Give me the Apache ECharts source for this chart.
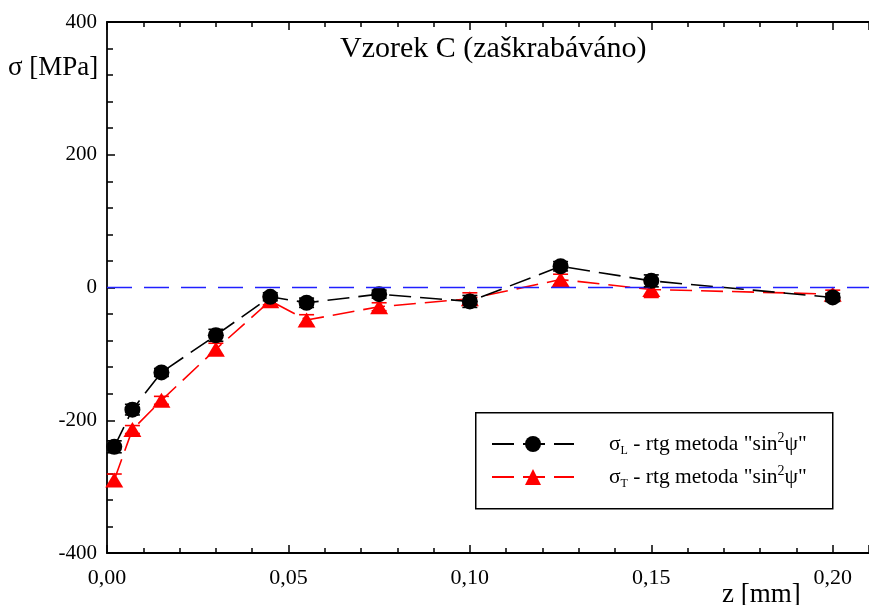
<!DOCTYPE html>
<html>
<head>
<meta charset="utf-8">
<script src="https://cdn.jsdelivr.net/npm/echarts@6/dist/echarts.min.js"></script>
<style>
  html, body { margin: 0; padding: 0; background: #fff; }
  #chart { width: 869px; height: 605px; }
</style>
</head>
<body>
<div id="chart"></div>
<script>
// Depth below the surface, z [mm]
const zValues = [0.002, 0.007, 0.015, 0.03, 0.045, 0.055, 0.075, 0.10, 0.125, 0.15, 0.20];
// Longitudinal residual stress σL [MPa] and its uncertainty
const sigmaL = [-240, -184, -128, -72, -14, -23, -10, -21, 32, 10, -15];
const errL   = [9, 8, 6, 9, 6, 7, 6, 9, 7, 9, 6];
// Transverse residual stress σT [MPa] and its uncertainty
const sigmaT = [-290, -214, -170, -93, -20, -49, -29, -17, 12, -3, -10];
const errT   = [9, 6, 6, 9, 6, 8, 6, 9, 8, 12, 6];
// Axis tick settings
const yTicks = { min: -400, max: 400, step: 200 };
const xTicks = { min: 0, max: 0.21, step: 0.05 };

const FONT = '"Liberation Serif", "DejaVu Serif", serif';
const chart = echarts.init(document.getElementById('chart'));

function pairs(vals) { return zValues.map((z, i) => [z, vals[i]]); }
function triples(vals, errs) { return zValues.map((z, i) => [z, vals[i], errs[i]]); }

function errorBars(color) {
  return function (params, api) {
    const x = api.value(0), y = api.value(1), e = api.value(2);
    const a = api.coord([x, y + e]);
    const b = api.coord([x, y - e]);
    const hw = 7.5;
    const st = { stroke: color, lineWidth: 1.6 };
    return {
      type: 'group',
      children: [
        { type: 'line', shape: { x1: a[0], y1: a[1], x2: b[0], y2: b[1] }, style: st },
        { type: 'line', shape: { x1: a[0] - hw, y1: a[1], x2: a[0] + hw, y2: a[1] }, style: st },
        { type: 'line', shape: { x1: b[0] - hw, y1: b[1], x2: b[0] + hw, y2: b[1] }, style: st }
      ]
    };
  };
}

const axisLine = { show: true, onZero: false, lineStyle: { color: '#000', width: 1.8 } };
const xCommon = {
  type: 'value', min: xTicks.min, max: xTicks.max, interval: xTicks.step,
  axisLine: axisLine,
  axisTick: { show: true, inside: true, length: 8, lineStyle: { color: '#000', width: 1.5 } },
  minorTick: { show: true, splitNumber: 5, length: 5, lineStyle: { color: '#000', width: 1.5 } },
  splitLine: { show: false }
};

const legendText = (sub) =>
  '{s|σ}{sub|' + sub + '}{t| - rtg metoda "sin}{sup|2}{t|ψ"}';

chart.setOption({
  animation: false,
  backgroundColor: '#fff',
  grid: { left: 107, right: -9, top: 22, bottom: 52, containLabel: false },
  xAxis: [
    Object.assign({}, xCommon, {
      position: 'bottom',
      axisLabel: {
        show: true, margin: 14, fontFamily: FONT, fontSize: 22, color: '#000',
        showMaxLabel: false,
        formatter: (v) => v.toFixed(2).replace('.', ',')
      }
    }),
    Object.assign({}, xCommon, {
      position: 'top',
      axisLabel: { show: false }
    })
  ],
  yAxis: {
    type: 'value', min: yTicks.min, max: yTicks.max, interval: yTicks.step,
    axisLine: axisLine,
    axisTick: { show: true, inside: true, length: 8, lineStyle: { color: '#000', width: 1.5 } },
    minorTick: { show: true, splitNumber: 5, length: 6, lineStyle: { color: '#000', width: 1.5 } },
    splitLine: { show: false },
    axisLabel: { margin: 10, fontFamily: FONT, fontSize: 21, color: '#000' }
  },
  legend: {
    orient: 'vertical',
    left: 491, top: 431,
    padding: 0,
    itemWidth: 82, itemHeight: 20, itemGap: 7,
    data: ['σL', 'σT'],
    formatter: (name) => legendText(name.slice(1)),
    textStyle: {
      color: '#000',
      padding: [0, 0, 0, 30],
      rich: {
        s: { fontFamily: FONT, fontSize: 21.5, color: '#000' },
        t: { fontFamily: FONT, fontSize: 21.5, color: '#000' },
        sub: { fontFamily: FONT, fontSize: 12, color: '#000', verticalAlign: 'bottom', padding: [10, 0, 0, 0] },
        sup: { fontFamily: FONT, fontSize: 14, color: '#000', verticalAlign: 'top', padding: [0, 0, 12, 0] }
      }
    }
  },
  graphic: [
    { type: 'rect', left: 475, top: 412, z: -1,
      shape: { width: 357, height: 96 },
      style: { fill: '#fff', stroke: '#000', lineWidth: 1.5 } },
    { type: 'text', left: 340, top: 34,
      style: { text: 'Vzorek C (zaškrabáváno)', font: '30px ' + FONT, fill: '#000' } },
    { type: 'text', left: 8, top: 54,
      style: { text: 'σ [MPa]', font: '27px ' + FONT, fill: '#000' } },
    { type: 'text', left: 722, top: 581,
      style: { text: 'z [mm]', font: '27px ' + FONT, fill: '#000' } }
  ],
  series: [
    {
      name: 'σL', type: 'line', data: pairs(sigmaL), z: 4,
      symbol: 'circle', symbolSize: 16,
      itemStyle: { color: '#000' },
      lineStyle: { color: '#000', width: 1.6, type: [22, 9] },
      markLine: {
        silent: true, symbol: 'none', label: { show: false },
        lineStyle: { color: '#2020ff', width: 1.3, type: [25, 12] },
        data: [{ yAxis: 0 }]
      }
    },
    {
      name: 'σT', type: 'line', data: pairs(sigmaT), z: 3,
      symbol: 'triangle', symbolSize: [18, 15],
      itemStyle: { color: '#ff0000' },
      lineStyle: { color: '#ff0000', width: 1.6, type: [22, 9] }
    },
    {
      type: 'custom', name: 'errL', renderItem: errorBars('#000'),
      data: triples(sigmaL, errL), z: 5, encode: { x: 0, y: 1 }
    },
    {
      type: 'custom', name: 'errT', renderItem: errorBars('#ff0000'),
      data: triples(sigmaT, errT), z: 2, encode: { x: 0, y: 1 }
    }
  ]
});
</script>
</body>
</html>
